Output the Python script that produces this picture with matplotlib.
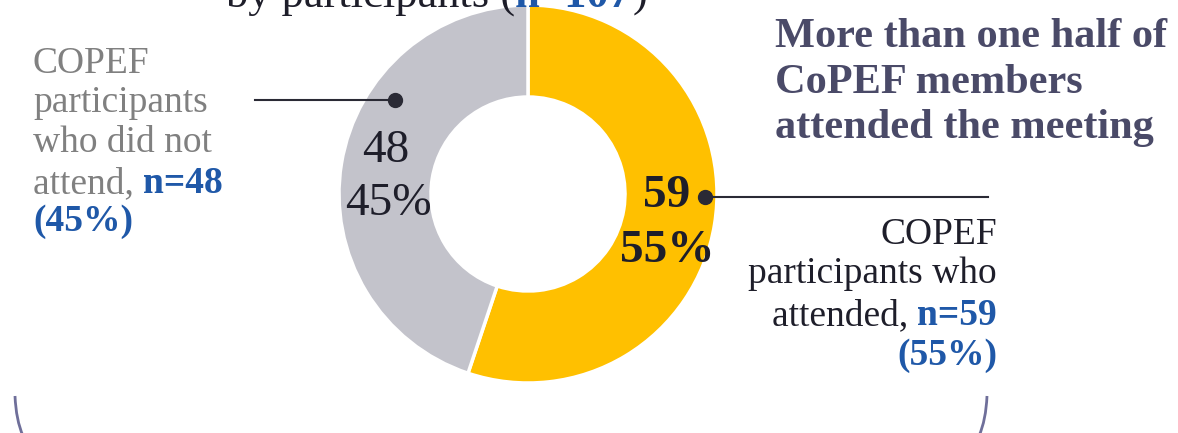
import matplotlib.pyplot as plt
from matplotlib.path import Path
from matplotlib.patches import PathPatch

# data
groups = ['attended', 'did not attend']
counts = [59, 48]
slice_colors = ['#FFC000', '#C3C3CB']
total = sum(counts)
pcts = [round(c / total * 100) for c in counts]

plt.rcParams['font.family'] = ['Liberation Serif', 'DejaVu Serif']

W, H = 1178, 433
fig = plt.figure(figsize=(W / 100, H / 100), dpi=100)
ax = fig.add_axes([0, 0, 1, 1])

# donut (pixel coordinates, y pointing down)
cx, cy, r = 528, 194, 189
ax.pie(counts, colors=slice_colors, center=(cx, cy), radius=r,
       startangle=-90, counterclock=True,
       wedgeprops=dict(width=92, edgecolor='white', linewidth=2.5))
ax.set_xlim(0, W)
ax.set_ylim(H, 0)
ax.set_aspect('auto')
ax.axis('off')

dark = '#1e1e2a'
grey_txt = '#808080'
blue = '#1f58a8'
head = '#4a4a68'

# inner value labels
ax.text(386, 162, f'{counts[1]}', fontsize=34, color=dark, ha='center', va='baseline')
ax.text(388, 215, f'{pcts[1]}%', fontsize=34, color=dark, ha='center', va='baseline')
ax.text(667, 207, f'{counts[0]}', fontsize=34, color=dark, ha='center', va='baseline',
        fontweight='bold')
ax.text(667, 262, f'{pcts[0]}%', fontsize=34, color=dark, ha='center', va='baseline',
        fontweight='bold')

# leader lines
ax.plot([255, 395], [100, 100], color='#2a2a35', lw=1.5)
ax.plot([395], [100], 'o', color='#2a2a35', ms=10)
ax.plot([705, 988], [197, 197], color='#2a2a35', lw=1.5)
ax.plot([705], [197], 'o', color='#2a2a35', ms=10)

# left label
fs = 27
ax.text(33, 73, 'COPEF', fontsize=fs, color=grey_txt, va='baseline')
ax.text(33, 112, 'participants', fontsize=fs, color=grey_txt, va='baseline')
ax.text(33, 152, 'who did not', fontsize=fs, color=grey_txt, va='baseline')
t = ax.text(33, 193, 'attend, ', fontsize=fs, color=grey_txt, va='baseline')
ax.annotate(f'n={counts[1]}', xy=(1, 0), xycoords=t, va='bottom', ha='left',
            fontsize=fs, color=blue, fontweight='bold')
ax.text(33, 231, f'({pcts[1]}%)', fontsize=fs, color=blue, va='baseline',
        fontweight='bold')

# right label
ax.text(997, 244, 'COPEF', fontsize=fs, color=dark, va='baseline', ha='right')
ax.text(997, 283, 'participants who', fontsize=fs, color=dark, va='baseline', ha='right')
t = ax.text(997, 325, f'n={counts[0]}', fontsize=fs, color=blue, va='baseline',
            ha='right', fontweight='bold')
ax.annotate('attended, ', xy=(0, 0), xycoords=t, va='bottom', ha='right',
            fontsize=fs, color=dark)
ax.text(997, 365, f'({pcts[0]}%)', fontsize=fs, color=blue, va='baseline',
        ha='right', fontweight='bold')

# headline
for y, line in zip([47, 93, 138],
                   ['More than one half of', 'CoPEF members', 'attended the meeting']):
    ax.text(775, y, line, fontsize=30.5, color=head, fontweight='bold', va='baseline')

# title, cut by the top edge as in the source slide
t1 = ax.text(226, 7, 'by participants (', fontsize=32, color=dark, va='baseline')
t2 = ax.annotate(f'n={total}', xy=(1, 0), xycoords=t1, va='bottom', ha='left',
                 fontsize=32, color=blue, fontweight='bold')
ax.annotate(')', xy=(1, 0), xycoords=t2, va='bottom', ha='left', fontsize=32, color=dark)

# frame remnants at the bottom
frame_col = '#6f6f9a'
for pts in ([(15, 396), (16, 420), (23, 436)], [(987, 396), (986, 420), (979, 436)]):
    ax.add_patch(PathPatch(Path(pts, [Path.MOVETO, Path.CURVE3, Path.CURVE3]),
                           fill=False, edgecolor=frame_col, lw=2))

fig.savefig('out.png', dpi=100)
